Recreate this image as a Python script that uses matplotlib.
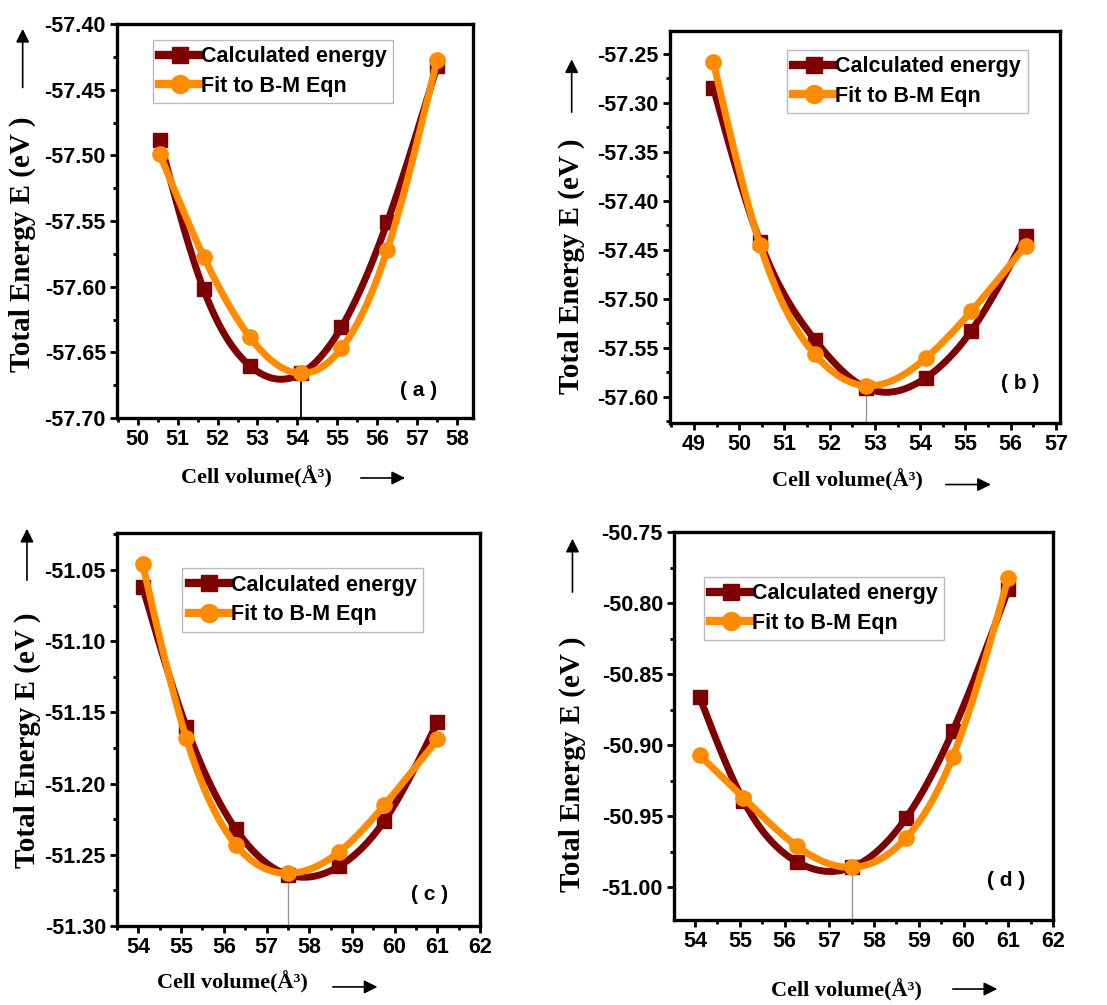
import numpy as np
import matplotlib
matplotlib.use("Agg")
import matplotlib.pyplot as plt
from matplotlib.lines import Line2D
from matplotlib.ticker import MultipleLocator, FormatStrFormatter


# -----------------------------
# Data
# -----------------------------
vol_a = [50.55, 51.65, 52.8, 54.1, 55.1, 56.25, 57.5]
calc_a = [-57.488, -57.602, -57.660, -57.666, -57.631, -57.551, -57.432]
fit_a = [-57.499, -57.577, -57.638, -57.666, -57.647, -57.572, -57.427]

vol_b = [49.43, 50.46, 51.67, 52.8, 54.12, 55.13, 56.33]
calc_b = [-57.285, -57.442, -57.542, -57.591, -57.581, -57.533, -57.436]
fit_b = [-57.259, -57.445, -57.557, -57.589, -57.561, -57.513, -57.446]

vol_c = [54.1, 55.12, 56.28, 57.5, 58.7, 59.76, 61.0]
calc_c = [-51.062, -51.160, -51.232, -51.264, -51.258, -51.226, -51.157]
fit_c = [-51.046, -51.168, -51.243, -51.263, -51.248, -51.215, -51.169]

vol_d = [54.1, 55.08, 56.27, 57.5, 58.72, 59.76, 61.0]
calc_d = [-50.866, -50.939, -50.982, -50.986, -50.951, -50.890, -50.790]
fit_d = [-50.907, -50.937, -50.971, -50.986, -50.965, -50.908, -50.782]

# volume at the minimum marked with a drop line
v_min = [54.1, 52.8, 57.5, 57.5]
e_min = [-57.666, -57.590, -51.263, -50.986]

panel_tags = ["( a )", "( b )", "( c )", "( d )"]

CALC_COLOR = "#7f0000"
FIT_COLOR = "#ff8c00"
LW = 5.0


# -----------------------------
# Smooth connecting line (natural cubic spline)
# -----------------------------
def spline_line(x, y, n=300):
    x = np.asarray(x, float)
    y = np.asarray(y, float)
    k = len(x)
    h = np.diff(x)
    A = np.zeros((k, k))
    r = np.zeros(k)
    A[0, 0] = 1.0
    A[-1, -1] = 1.0
    for i in range(1, k - 1):
        A[i, i - 1] = h[i - 1]
        A[i, i] = 2 * (h[i - 1] + h[i])
        A[i, i + 1] = h[i]
        r[i] = 6 * ((y[i + 1] - y[i]) / h[i] - (y[i] - y[i - 1]) / h[i - 1])
    M = np.linalg.solve(A, r)
    xs = np.linspace(x[0], x[-1], n)
    idx = np.clip(np.searchsorted(x, xs) - 1, 0, k - 2)
    x0, x1 = x[idx], x[idx + 1]
    hh = x1 - x0
    ys = (M[idx] * (x1 - xs) ** 3 / (6 * hh)
          + M[idx + 1] * (xs - x0) ** 3 / (6 * hh)
          + (y[idx] - M[idx] * hh ** 2 / 6) * (x1 - xs) / hh
          + (y[idx + 1] - M[idx + 1] * hh ** 2 / 6) * (xs - x0) / hh)
    return xs, ys


# -----------------------------
# Panel layout (figure fractions) and label placement (axes fractions)
# -----------------------------
panels = [
    dict(rect=[0.1057, 0.584, 0.3216, 0.392], xlim=(49.48, 58.4), ylim=(-57.70, -57.40),
         vol=vol_a, calc=calc_a, fit=fit_a, leg=(0.10, 0.96), tag=(0.848, 0.071),
         ylab=(-0.265, 0.44), yarr=(0.832, 0.995), xlab=(0.393, -0.15), xarr=(0.677, 0.817, -0.152),
         vcolor="black", vlw=1.3),
    dict(rect=[0.6052, 0.5791, 0.3523, 0.390], xlim=(48.47, 57.09), ylim=(-57.627, -57.227),
         vol=vol_b, calc=calc_b, fit=fit_b, leg=(0.30, 0.952), tag=(0.897, 0.102),
         ylab=(-0.252, 0.40), yarr=(0.786, 0.935), xlab=(0.454, -0.145), xarr=(0.70, 0.83, -0.157),
         vcolor="#999999", vlw=1.0),
    dict(rect=[0.1057, 0.0786, 0.328, 0.391], xlim=(53.5, 62.0), ylim=(-51.30, -51.024),
         vol=vol_c, calc=calc_c, fit=fit_c, leg=(0.18, 0.91), tag=(0.862, 0.079),
         ylab=(-0.248, 0.473), yarr=(0.873, 1.018), xlab=(0.317, -0.142), xarr=(0.587, 0.725, -0.155),
         vcolor="#999999", vlw=1.0),
    dict(rect=[0.6089, 0.0846, 0.3424, 0.386], xlim=(53.53, 62.0), ylim=(-51.023, -50.75),
         vol=vol_d, calc=calc_d, fit=fit_d, leg=(0.078, 0.885), tag=(0.876, 0.103),
         ylab=(-0.268, 0.402), yarr=(0.838, 0.99), xlab=(0.454, -0.18), xarr=(0.728, 0.86, -0.178),
         vcolor="#999999", vlw=1.0),
]

fig = plt.figure(figsize=(11.07, 10.05), dpi=100)

for p, vm, em, tag in zip(panels, v_min, e_min, panel_tags):
    ax = fig.add_axes(p["rect"])

    # drop line at the minimum
    ax.plot([vm, vm], [p["ylim"][0], em], color=p["vcolor"], lw=p["vlw"], zorder=1)

    # calculated energy
    xs, ys = spline_line(p["vol"], p["calc"])
    ax.plot(xs, ys, color=CALC_COLOR, lw=LW, solid_capstyle="round", zorder=2)
    ax.plot(p["vol"], p["calc"], linestyle="none", marker="s", ms=10,
            color=CALC_COLOR, zorder=3)

    # Birch-Murnaghan fit
    xs, ys = spline_line(p["vol"], p["fit"])
    ax.plot(xs, ys, color=FIT_COLOR, lw=LW, solid_capstyle="round", zorder=4)
    ax.plot(p["vol"], p["fit"], linestyle="none", marker="o", ms=11,
            color=FIT_COLOR, zorder=5)

    ax.set_xlim(*p["xlim"])
    ax.set_ylim(*p["ylim"])

    # Axis formatting
    ax.xaxis.set_major_locator(MultipleLocator(1))
    ax.xaxis.set_minor_locator(MultipleLocator(0.5))
    ax.yaxis.set_major_locator(MultipleLocator(0.05))
    ax.yaxis.set_minor_locator(MultipleLocator(0.025))
    ax.yaxis.set_major_formatter(FormatStrFormatter("%.2f"))
    ax.xaxis.set_major_formatter(FormatStrFormatter("%d"))
    ax.tick_params(which="major", direction="out", length=5, width=2,
                   labelsize=15.5, top=False, right=False, pad=3)
    ax.tick_params(which="minor", direction="out", length=3, width=2,
                   top=False, right=False)
    for lab in ax.get_xticklabels() + ax.get_yticklabels():
        lab.set_fontfamily("Liberation Sans")
        lab.set_fontweight("bold")
    for s in ax.spines.values():
        s.set_linewidth(2.4)

    # Legend
    handles = [
        Line2D([], [], color=CALC_COLOR, lw=LW + 1, marker="s", ms=12),
        Line2D([], [], color=FIT_COLOR, lw=LW + 1, marker="o", ms=13),
    ]
    leg = ax.legend(handles, ["Calculated energy", "Fit to B-M Eqn"],
                    loc="upper left", bbox_to_anchor=p["leg"], fancybox=False,
                    framealpha=1, edgecolor="#bbbbbb", handlelength=1.9,
                    handletextpad=0.05, borderpad=0.3, labelspacing=0.4,
                    borderaxespad=0,
                    prop={"family": "Liberation Sans", "weight": "bold", "size": 15.5})
    leg.get_frame().set_linewidth(1.0)

    # panel tag
    ax.text(p["tag"][0], p["tag"][1], tag, transform=ax.transAxes,
            ha="center", va="center", fontsize=15, fontweight="bold",
            family="Liberation Sans")

    # axis titles with arrows
    ax.text(p["ylab"][0], p["ylab"][1], "Total Energy E (eV )", transform=ax.transAxes,
            rotation=90, ha="center", va="center", fontsize=21, fontweight="bold",
            family="Liberation Serif")
    ax.annotate("", xy=(p["ylab"][0], p["yarr"][1]), xytext=(p["ylab"][0], p["yarr"][0]),
                xycoords="axes fraction", textcoords="axes fraction",
                annotation_clip=False,
                arrowprops=dict(arrowstyle="-|>", color="black", lw=1.2, mutation_scale=20))
    ax.text(p["xlab"][0], p["xlab"][1], "Cell volume(Å³)", transform=ax.transAxes,
            ha="center", va="center", fontsize=16, fontweight="bold",
            family="Liberation Serif")
    ax.annotate("", xy=(p["xarr"][1], p["xarr"][2]), xytext=(p["xarr"][0], p["xarr"][2]),
                xycoords="axes fraction", textcoords="axes fraction",
                annotation_clip=False,
                arrowprops=dict(arrowstyle="-|>", color="black", lw=1.2, mutation_scale=20))

plt.savefig("out.png", dpi=100)
plt.close()
